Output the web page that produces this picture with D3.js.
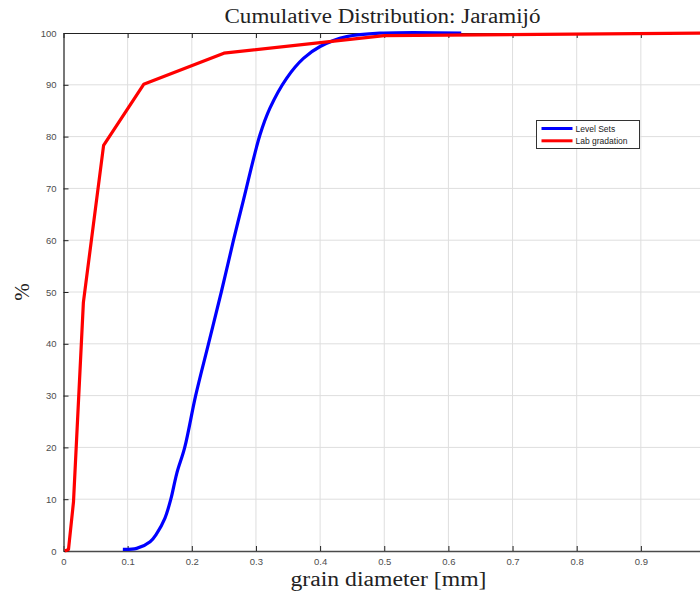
<!DOCTYPE html>
<html>
<head>
<meta charset="utf-8">
<script src="https://cdn.jsdelivr.net/npm/d3@7"></script>
<style>
    body { margin: 0; background: #fff; }
    svg { display: block; }
</style>
</head>
<body>
<svg id="chart"></svg>
<script>
// Level Sets curve (grain diameter mm, cumulative %)
const levelDiam = [0.0925, 0.114, 0.135, 0.1455, 0.158, 0.1673, 0.1766, 0.189, 0.206, 0.226, 0.246, 0.265, 0.2804, 0.3062, 0.3218, 0.348, 0.374, 0.400, 0.4415, 0.4985, 0.62];
const levelPct  = [0.3,    0.5,   1.8,   3.4,    6.3,   10.0,   15.0,   20.0,  30.0,  40.0,  50.0,  60.0,  67.7,   80.3,   85.5,   91.3,  95.1,  97.4,  99.3,   100,    100];

// Lab gradation (sieve sizes)
const labDiam = [0.002, 0.0078, 0.0156, 0.031, 0.0625, 0.125, 0.25, 0.5, 1.0];
const labPct  = [0,     0.3,    9.5,    48,    78.3,   90.1,  96.1, 99.5, 100];

const xTicks = [0, 0.1, 0.2, 0.3, 0.4, 0.5, 0.6, 0.7, 0.8, 0.9];
const yTicks = [0, 10, 20, 30, 40, 50, 60, 70, 80, 90, 100];

const seriesNames = ['Level Sets', 'Lab gradation'];
const seriesColors = ['#0000ff', '#ff0000'];

const W = 700, H = 596;
const m = {left: 63.5, right: 705, top: 33, bottom: 551};

const svg = d3.select('#chart')
    .attr('width', W)
    .attr('height', H);

const x = d3.scaleLinear().domain([0, 1]).range([m.left, m.right]);
const y = d3.scaleLinear().domain([0, 100]).range([m.bottom, m.top]);

const axisColor = '#4a4a4a';
const labelFont = '"Liberation Sans", Arial, Helvetica, sans-serif';
const serifFont = '"Liberation Serif", "DejaVu Serif", serif';

// grid
svg.append('g')
    .selectAll('line')
    .data(xTicks.slice(1))
    .join('line')
    .attr('x1', d => x(d)).attr('x2', d => x(d))
    .attr('y1', m.top).attr('y2', m.bottom)
    .attr('stroke', '#dedede').attr('stroke-width', 1);

svg.append('g')
    .selectAll('line')
    .data(yTicks.slice(1, -1))
    .join('line')
    .attr('x1', m.left).attr('x2', m.right)
    .attr('y1', d => y(d)).attr('y2', d => y(d))
    .attr('stroke', '#dedede').attr('stroke-width', 1);

// bottom axis (ticks inward)
const xAxis = svg.append('g')
    .attr('transform', `translate(0,${m.bottom})`)
    .call(d3.axisBottom(x).tickValues(xTicks).tickSizeInner(-5).tickSizeOuter(0).tickPadding(7)
        .tickFormat(d => d === 0 ? '0' : d3.format('.1f')(d)));
xAxis.select('.domain').attr('stroke', axisColor).attr('stroke-width', 1.5);
xAxis.selectAll('.tick line').attr('stroke', '#222');
xAxis.selectAll('text').attr('fill', '#4d4d4d').style('font-family', labelFont).style('font-size', '9.5px');

// left axis
const yAxis = svg.append('g')
    .attr('transform', `translate(${m.left},0)`)
    .call(d3.axisLeft(y).tickValues(yTicks).tickSizeInner(-5).tickSizeOuter(0).tickPadding(7));
yAxis.select('.domain').attr('stroke', axisColor).attr('stroke-width', 1.5);
yAxis.selectAll('.tick line').attr('stroke', '#222');
yAxis.selectAll('text').attr('fill', '#4d4d4d').style('font-family', labelFont).style('font-size', '9.5px');

// top axis, no labels
const topAxis = svg.append('g')
    .attr('transform', `translate(0,${m.top})`)
    .call(d3.axisTop(x).tickValues(xTicks).tickSizeInner(-5).tickSizeOuter(0).tickFormat(''));
topAxis.select('.domain').attr('stroke', '#222').attr('stroke-width', 1);
topAxis.selectAll('.tick line').attr('stroke', '#222');

// curves
const levelData = levelDiam.map((d, i) => ({d: d, p: levelPct[i]}));
const labData = labDiam.map((d, i) => ({d: d, p: labPct[i]}));

svg.append('path')
    .datum(levelData)
    .attr('fill', 'none')
    .attr('stroke', seriesColors[0])
    .attr('stroke-width', 3.2)
    .attr('stroke-linejoin', 'round')
    .attr('d', d3.line().x(d => x(d.d)).y(d => y(d.p)).curve(d3.curveCatmullRom.alpha(0.5)));

svg.append('path')
    .datum(labData)
    .attr('fill', 'none')
    .attr('stroke', seriesColors[1])
    .attr('stroke-width', 3.2)
    .attr('stroke-linejoin', 'round')
    .attr('d', d3.line().x(d => x(d.d)).y(d => y(d.p)));

// legend
const legend = svg.append('g').attr('transform', 'translate(536.5,120.5)');
legend.append('rect')
    .attr('width', 103).attr('height', 28)
    .attr('fill', '#fff').attr('stroke', '#333').attr('stroke-width', 1);
seriesNames.forEach((name, i) => {
    const ly = 8 + i * 12.3;
    legend.append('line')
        .attr('x1', 5).attr('x2', 36)
        .attr('y1', ly).attr('y2', ly)
        .attr('stroke', seriesColors[i]).attr('stroke-width', 3);
    legend.append('text')
        .attr('x', 39).attr('y', ly + 3)
        .attr('fill', '#222')
        .style('font-family', labelFont)
        .style('font-size', '8.5px')
        .text(name);
});

// title
svg.append('text')
    .attr('x', (224 + 541) / 2).attr('y', 23)
    .attr('text-anchor', 'middle')
    .attr('textLength', 316).attr('lengthAdjust', 'spacingAndGlyphs')
    .attr('fill', '#222')
    .style('font-family', serifFont)
    .style('font-size', '20px')
    .text('Cumulative Distribution:  Jaramijó');

// x label
svg.append('text')
    .attr('x', (290 + 487) / 2).attr('y', 586)
    .attr('text-anchor', 'middle')
    .attr('textLength', 196).attr('lengthAdjust', 'spacingAndGlyphs')
    .attr('fill', '#222')
    .style('font-family', serifFont)
    .style('font-size', '20px')
    .text('grain diameter [mm]');

// y label
svg.append('text')
    .attr('transform', 'translate(29,292) rotate(-90)')
    .attr('text-anchor', 'middle')
    .attr('fill', '#222')
    .style('font-family', serifFont)
    .style('font-size', '21px')
    .text('%');
</script>
</body>
</html>
